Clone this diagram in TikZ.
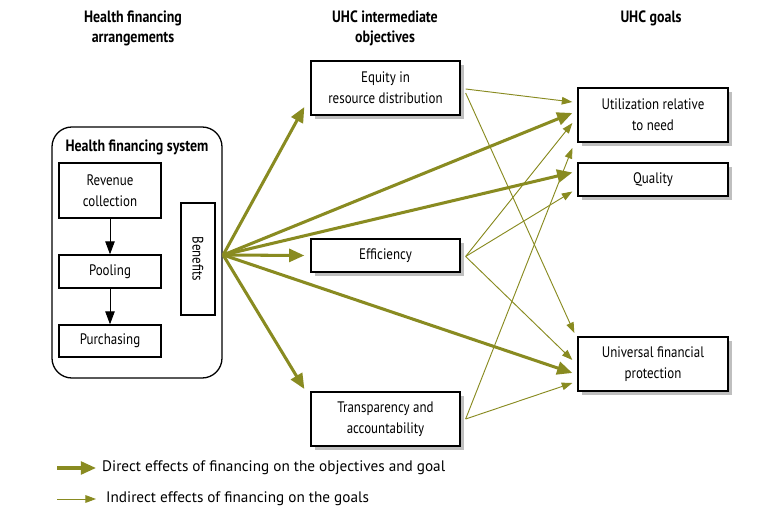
\documentclass[tikz,border=0pt]{standalone}
\usepackage{fontspec}
\setmainfont{PT Sans}[FakeStretch=0.85]
\newfontfamily\legendfont{PT Sans}
\usetikzlibrary{arrows.meta}
\usetikzlibrary{shadows}
\definecolor{finolive}{RGB}{137,139,33}

\begin{document}
\begin{tikzpicture}[x=0.03cm, y=-0.03cm,
    every node/.style={font=\fontsize{13}{18}\selectfont, align=center},
    head/.style={font=\bfseries\fontsize{14}{17}\selectfont},
    box/.style={draw, line width=1.1pt, fill=white, inner sep=2pt},
    shadowbox/.style={box, drop shadow={shadow xshift=3.4pt, shadow yshift=-3.4pt, fill=black!25, opacity=1}},
    objbox/.style={shadowbox, minimum width=4.47cm},
    goalbox/.style={shadowbox, minimum width=4.5cm},
    legend/.style={font=\legendfont\fontsize{13}{15}\selectfont, inner sep=0pt, anchor=west},
    flow/.style={line width=0.8pt, -{Triangle[length=11pt, width=8pt]}},
    direct/.style={finolive, line width=2.6pt, -{Triangle[length=13pt, width=11pt]}},
    indirect/.style={finolive, line width=0.8pt, -{Triangle[length=9pt, width=6.5pt]}}]
    \useasboundingbox (0,0) rectangle (771,517);

    % health financing system
    \node[box, rounded corners=17pt, minimum width=5.1cm, minimum height=7.53cm] (1) at (137,252.5) {};
    \node[head] (2) at (137,147) {Health financing system};
    \node[box, minimum width=3.06cm, minimum height=1.65cm] (3) at (110,190.5) {Revenue\\collection};
    \node[box, minimum width=3.06cm, minimum height=0.99cm] (4) at (110,271.5) {Pooling};
    \node[box, minimum width=3.06cm, minimum height=0.96cm] (5) at (110,341) {Purchasing};
    \node[box, rotate=-90, minimum width=3.36cm, minimum height=1.02cm] (6) at (198,259) {Benefits};
    \draw[flow] (3) -- (4);
    \draw[flow] (4) -- (5);
    \coordinate (0) at ([shift={(0.5,2.5)}]1.east);

    % objectives and goals
    \node[objbox, minimum height=1.62cm] (7) at (385.5,88) {Equity in\\resource distribution};
    \node[objbox, minimum height=0.99cm] (8) at (385.5,255.5) {Efficiency};
    \node[objbox, minimum height=1.62cm] (9) at (385.5,419) {Transparency and\\accountability};
    \node[goalbox, minimum height=1.62cm] (10) at (653,115) {Utilization relative\\to need};
    \node[goalbox, minimum height=0.99cm] (11) at (653,179.5) {Quality};
    \node[goalbox, minimum height=1.62cm] (12) at (653,364) {Universal financial\\protection};

    \node[head] (13) at (133,28) {Health financing\\arrangements};
    \node[head] (14) at (385,28) {UHC intermediate\\objectives};
    \node[head] (15) at (651,18) {UHC goals};

    % direct effects
    \draw[direct] (0) -- ([shift={(-6,19)}]7.west);
    \draw[direct] (0) -- ([shift={(-6,0)}]8.west);
    \draw[direct] (0) -- ([shift={(-6,-30)}]9.west);
    \draw[direct] (0) -- ([shift={(-5,-2)}]10.west);
    \draw[direct] (0) -- ([shift={(-5,-7)}]11.west);
    \draw[direct] (0) -- ([shift={(-5,9)}]12.west);

    % indirect effects
    \draw[indirect] ([shift={(5,1)}]7.east) -- ([shift={(-5,-13)}]10.west);
    \draw[indirect] ([shift={(5,5)}]7.east) -- ([shift={(-3,-31)}]12.west);
    \draw[indirect] ([shift={(5,1)}]8.east) -- ([shift={(-5,8)}]10.west);
    \draw[indirect] ([shift={(5,1)}]8.east) -- ([shift={(-5,12)}]11.west);
    \draw[indirect] ([shift={(5,1)}]8.east) -- ([shift={(-5,-4)}]12.west);
    \draw[indirect] ([shift={(5,0)}]9.east) -- ([shift={(-5,33)}]10.west);
    \draw[indirect] ([shift={(5,0)}]9.east) -- ([shift={(-5,19)}]12.west);

    % legend
    \node[legend] (16) at (102,468) {Direct effects of financing on the objectives and goal};
    \node[legend] (17) at (106,499) {Indirect effects of financing on the goals};
    \coordinate (18) at (57,468);
    \coordinate (19) at (57,499);
    \draw[direct] (18) -- ([shift={(-6,0)}]16.west);
    \draw[indirect] (19) -- ([shift={(-10,0)}]17.west);
\end{tikzpicture}
\end{document}
